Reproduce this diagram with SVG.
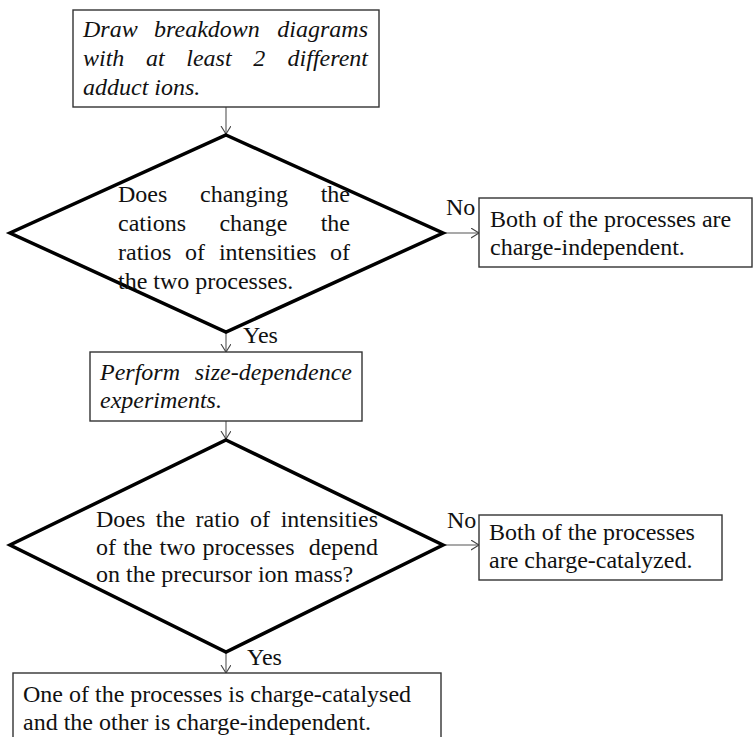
<svg xmlns="http://www.w3.org/2000/svg" width="754" height="737" viewBox="0 0 754 737">
<style>
text{font-family:"Liberation Serif","Times New Roman",serif;font-size:24px;fill:#111}
.it{font-style:italic}
.box{fill:#fff;stroke:#333;stroke-width:1.4}
.dia{fill:#fff;stroke:#000;stroke-width:3.5;stroke-linejoin:miter}
.con{stroke:#555;stroke-width:1.1;fill:none}
</style>
<defs>
<marker id="ah" markerUnits="userSpaceOnUse" markerWidth="10" markerHeight="12" refX="8" refY="5" orient="auto">
<path d="M0,0 L8,5 L0,10" fill="none" stroke="#444" stroke-width="1.1"/>
</marker>
</defs>
<rect width="754" height="737" fill="#fff"/>
<g id="connectors">
<line class="con" x1="443" y1="233" x2="479" y2="233" marker-end="url(#ah)"/>
<line class="con" x1="226" y1="107" x2="226" y2="134" marker-end="url(#ah)"/>
<line class="con" x1="226" y1="332" x2="226" y2="352" marker-end="url(#ah)"/>
<line class="con" x1="226" y1="421" x2="226" y2="439" marker-end="url(#ah)"/>
<line class="con" x1="443" y1="545" x2="479" y2="545" marker-end="url(#ah)"/>
<line class="con" x1="226" y1="652" x2="226" y2="673" marker-end="url(#ah)"/>
<text x="446" y="215">No</text>
<text x="243" y="343">Yes</text>
<text x="447" y="528">No</text>
<text x="247" y="665">Yes</text>
</g>
<g id="start">
<rect class="box" x="73" y="10" width="306" height="97"/>
<text class="it" y="37"><tspan x="83">Draw</tspan><tspan x="154.1">breakdown</tspan><tspan x="368" text-anchor="end">diagrams</tspan></text>
<text class="it" y="66"><tspan x="83">with</tspan><tspan x="146">at</tspan><tspan x="186.3">least</tspan><tspan x="253.2">2</tspan><tspan x="368" text-anchor="end">different</tspan></text>
<text class="it" x="83" y="95">adduct ions.</text>
</g>
<g id="decision1">
<polygon class="dia" points="226,135 443,233 226,332 10,233"/>
<text y="202"><tspan x="118">Does</tspan><tspan x="200">changing</tspan><tspan x="350" text-anchor="end">the</tspan></text>
<text y="231"><tspan x="118">cations</tspan><tspan x="219.4">change</tspan><tspan x="350" text-anchor="end">the</tspan></text>
<text y="260"><tspan x="118">ratios</tspan><tspan x="185.1">of</tspan><tspan x="218.9">intensities</tspan><tspan x="350" text-anchor="end">of</tspan></text>
<text x="118" y="289">the two processes.</text>
</g>
<g id="result-independent">
<rect class="box" x="479" y="198" width="273" height="69"/>
<text x="490" y="227">Both of the processes are</text>
<text x="490" y="255">charge-independent.</text>
</g>
<g id="size-dependence">
<rect class="box" x="90" y="352" width="272" height="69"/>
<text class="it" y="380"><tspan x="100">Perform</tspan><tspan x="352" text-anchor="end">size-dependence</tspan></text>
<text class="it" x="100" y="408">experiments.</text>
</g>
<g id="decision2">
<polygon class="dia" points="226,440 443,545 226,652 10,545"/>
<text y="527"><tspan x="96">Does</tspan><tspan x="155.8">the</tspan><tspan x="195.6">ratio</tspan><tspan x="250.1">of</tspan><tspan x="378" text-anchor="end">intensities</tspan></text>
<text y="555"><tspan x="96">of</tspan><tspan x="123.1">the</tspan><tspan x="159.5">two</tspan><tspan x="202.6">processes</tspan><tspan x="378" text-anchor="end">depend</tspan></text>
<text x="96" y="582">on the precursor ion mass?</text>
</g>
<g id="result-catalyzed">
<rect class="box" x="479" y="515" width="243" height="65"/>
<text x="489" y="540">Both of the processes</text>
<text x="489" y="568">are charge-catalyzed.</text>
</g>
<g id="result-mixed">
<rect class="box" x="13" y="673" width="428" height="80"/>
<text x="23" y="702">One of the processes is charge-catalysed</text>
<text x="23" y="730">and the other is charge-independent.</text>
</g>
</svg>
